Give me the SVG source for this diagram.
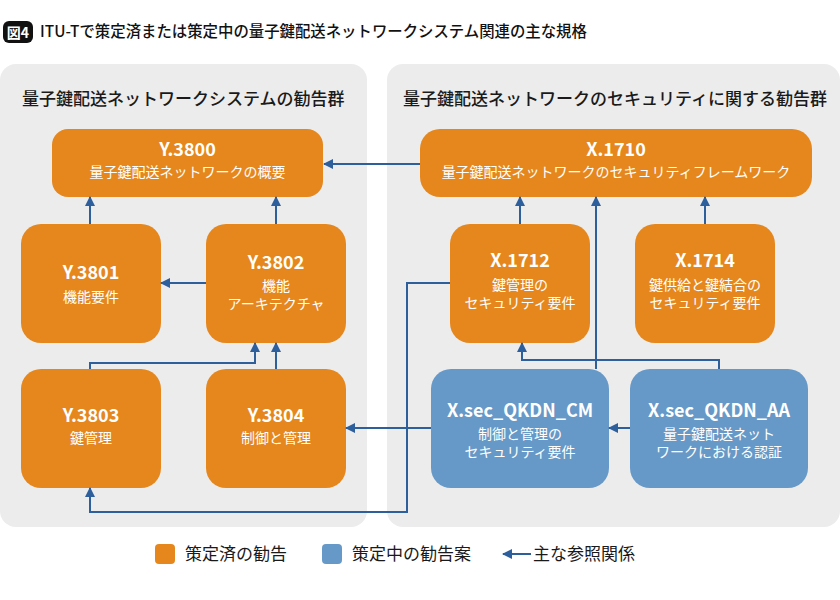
<svg xmlns="http://www.w3.org/2000/svg" width="840" height="600" viewBox="0 0 840 600">
<defs>
<marker id="ah" viewBox="0 0 10 10" refX="9" refY="5" markerWidth="11" markerHeight="10" markerUnits="userSpaceOnUse" orient="auto">
<path d="M0,0 L10,5 L0,10 z" fill="#2D5F9C"/>
</marker>
<style>
text{font-family:"Noto Sans CJK JP","Noto Sans",sans-serif;}
.panel{fill:#ECECEC;}
.head{font-size:17px;font-weight:500;fill:#1a1a1a;}
.or{fill:#E5871D;}
.bl{fill:#6699C7;}
.t{font-size:18px;font-weight:700;fill:#fff;text-anchor:middle;}
.s{font-size:14px;fill:#fff;text-anchor:middle;}
.c{fill:none;stroke:#2D5F9C;stroke-width:2;marker-end:url(#ah);}
.lg{font-size:17px;fill:#1a1a1a;}
</style>
</defs>
<rect width="840" height="600" fill="#fff"/>
<g id="title">
<rect x="3" y="21" width="30" height="22" rx="6" fill="#111"/>
<text x="18" y="37.5" text-anchor="middle" style="font-size:14px;font-weight:700;fill:#fff">図4</text>
<text x="40" y="37" style="font-size:15.4px;font-weight:500;fill:#111">ITU-Tで策定済または策定中の量子鍵配送ネットワークシステム関連の主な規格</text>
</g>
<g id="panel-left">
<rect class="panel" x="0" y="64" width="367" height="463" rx="16"/>
<text class="head" x="22" y="105">量子鍵配送ネットワークシステムの勧告群</text>
</g>
<g id="panel-right">
<rect class="panel" x="387" y="64" width="453" height="463" rx="16"/>
<text class="head" x="403" y="105">量子鍵配送ネットワークのセキュリティに関する勧告群</text>
</g>
<g id="Y3800">
<rect class="or" x="52" y="129" width="271" height="68" rx="16"/>
<text class="t" x="187.5" y="156">Y.3800</text>
<text class="s" x="187.5" y="177">量子鍵配送ネットワークの概要</text>
</g>
<g id="Y3801">
<rect class="or" x="21" y="224" width="140" height="119" rx="20"/>
<text class="t" x="91" y="279">Y.3801</text>
<text class="s" x="91" y="302">機能要件</text>
</g>
<g id="Y3802">
<rect class="or" x="206" y="224" width="140" height="119" rx="20"/>
<text class="t" x="276" y="269">Y.3802</text>
<text class="s" x="276" y="291">機能</text>
<text class="s" x="276" y="309">アーキテクチャ</text>
</g>
<g id="Y3803">
<rect class="or" x="21" y="369" width="140" height="119" rx="20"/>
<text class="t" x="91" y="422">Y.3803</text>
<text class="s" x="91" y="443">鍵管理</text>
</g>
<g id="Y3804">
<rect class="or" x="206" y="369" width="140" height="119" rx="20"/>
<text class="t" x="276" y="422">Y.3804</text>
<text class="s" x="276" y="443">制御と管理</text>
</g>
<g id="X1710">
<rect class="or" x="420" y="129" width="392" height="68" rx="20"/>
<text class="t" x="616" y="156">X.1710</text>
<text class="s" x="616" y="177">量子鍵配送ネットワークのセキュリティフレームワーク</text>
</g>
<g id="X1712">
<rect class="or" x="450" y="224" width="140" height="119" rx="20"/>
<text class="t" x="520" y="267">X.1712</text>
<text class="s" x="520" y="290">鍵管理の</text>
<text class="s" x="520" y="308">セキュリティ要件</text>
</g>
<g id="X1714">
<rect class="or" x="635" y="224" width="140" height="119" rx="20"/>
<text class="t" x="705" y="267">X.1714</text>
<text class="s" x="705" y="290">鍵供給と鍵結合の</text>
<text class="s" x="705" y="308">セキュリティ要件</text>
</g>
<g id="XsecCM">
<rect class="bl" x="431" y="369" width="178" height="119" rx="20"/>
<text class="t" x="520" y="417">X.sec_QKDN_CM</text>
<text class="s" x="520" y="439">制御と管理の</text>
<text class="s" x="520" y="457">セキュリティ要件</text>
</g>
<g id="XsecAA">
<rect class="bl" x="630" y="369" width="178" height="119" rx="20"/>
<text class="t" x="719" y="417">X.sec_QKDN_AA</text>
<text class="s" x="719" y="439">量子鍵配送ネット</text>
<text class="s" x="719" y="457">ワークにおける認証</text>
</g>
<g id="connectors">
<path class="c" d="M420,164 H324"/>
<path class="c" d="M90,224 V197"/>
<path class="c" d="M276,224 V197"/>
<path class="c" d="M206,283 H161"/>
<path class="c" d="M90,369 V363 H255 V343"/>
<path class="c" d="M276,369 V343"/>
<path class="c" d="M450,283 H407 V512 H90 V488"/>
<path class="c" d="M431,428 H346"/>
<path class="c" d="M520,224 V197"/>
<path class="c" d="M705,224 V197"/>
<path class="c" d="M596,369 V197"/>
<path class="c" d="M719,369 V360 H522 V343"/>
<path class="c" d="M630,428 H609"/>
</g>
<g id="legend">
<rect class="or" x="155" y="544" width="20" height="20" rx="4"/>
<text class="lg" x="185" y="560">策定済の勧告</text>
<rect class="bl" x="322" y="544" width="20" height="20" rx="4"/>
<text class="lg" x="352" y="560">策定中の勧告案</text>
<path class="c" d="M531,554 H503"/>
<text class="lg" x="533" y="560">主な参照関係</text>
</g>
</svg>
